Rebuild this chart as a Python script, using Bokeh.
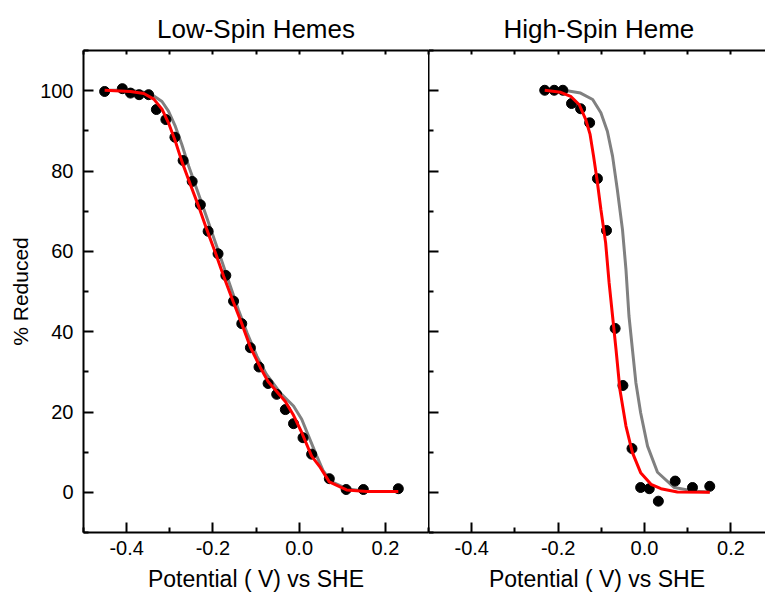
from bokeh.plotting import figure
from bokeh.models import FixedTicker, LinearAxis, Range1d, PrintfTickFormatter
from bokeh.layouts import row
from bokeh.embed import file_html
from bokeh.resources import INLINE

# ---------------- data ----------------
titles = ["Low-Spin Hemes", "High-Spin  Heme"]
x_label = "Potential ( V) vs SHE"
y_label = "% Reduced"

x_major = [-0.4, -0.2, 0.0, 0.2]
x_minor = [-0.5, -0.3, -0.1, 0.1, 0.3]
y_major = [0, 20, 40, 60, 80, 100]
y_minor = [-10, 10, 30, 50, 70, 90, 110]

# Low-spin hemes: measured points
ls_pot = [-0.451, -0.410, -0.391, -0.371, -0.349, -0.331, -0.309, -0.288, -0.269,
          -0.248, -0.229, -0.211, -0.188, -0.170, -0.152, -0.133, -0.113, -0.093,
          -0.072, -0.052, -0.032, -0.013, 0.009, 0.029, 0.070, 0.109, 0.149, 0.230]
ls_red = [99.8, 100.5, 99.4, 99.0, 99.0, 95.3, 92.8, 88.4, 82.6,
          77.4, 71.6, 65.0, 59.4, 54.0, 47.6, 42.0, 36.0, 31.2,
          27.1, 24.4, 20.6, 17.1, 13.6, 9.5, 3.4, 0.7, 0.7, 0.9]

# Low-spin hemes: fit (red)
ls_fit_pot = [-0.451, -0.391, -0.360, -0.337, -0.318, -0.303, -0.287, -0.272, -0.252,
              -0.233, -0.214, -0.194, -0.175, -0.153, -0.133, -0.113, -0.090, -0.072,
              -0.052, -0.032, -0.014, 0.006, 0.029, 0.049, 0.070, 0.110, 0.157, 0.230]
ls_fit = [100.1, 99.8, 99.3, 97.9, 95.4, 92.0, 87.4, 82.4, 76.6,
          71.2, 65.4, 59.6, 53.8, 47.5, 42.0, 36.1, 31.1, 27.6,
          25.1, 22.6, 19.4, 14.9, 9.0, 6.2, 2.6, 0.6, 0.2, 0.2]

# Low-spin hemes: alternative model (grey)
ls_alt_pot = [-0.451, -0.391, -0.353, -0.341, -0.318, -0.303, -0.287, -0.272, -0.256,
              -0.237, -0.218, -0.198, -0.179, -0.160, -0.141, -0.121, -0.098, -0.076,
              -0.044, -0.013, 0.006, 0.025, 0.041, 0.056, 0.076, 0.110, 0.157, 0.230]
ls_alt = [100.1, 100.1, 99.5, 99.0, 97.3, 94.9, 91.1, 86.6, 81.2,
          75.4, 69.6, 63.4, 57.5, 51.5, 45.5, 39.8, 33.9, 29.4,
          24.8, 21.5, 18.2, 13.2, 9.0, 5.3, 2.6, 0.9, 0.2, 0.2]

# High-spin heme: measured points
hs_pot = [-0.231, -0.209, -0.189, -0.169, -0.148, -0.127, -0.109, -0.088, -0.068,
          -0.050, -0.029, -0.009, 0.011, 0.032, 0.071, 0.111, 0.151]
hs_red = [100.1, 100.1, 100.1, 96.8, 95.5, 92.0, 78.1, 65.2, 40.8,
          26.6, 10.9, 1.2, 0.9, -2.2, 2.8, 1.2, 1.5]

# High-spin heme: fit (red)
hs_fit_pot = [-0.231, -0.194, -0.171, -0.151, -0.136, -0.126, -0.118, -0.110, -0.101,
              -0.090, -0.082, -0.074, -0.066, -0.057, -0.043, -0.028, -0.009, 0.015,
              0.038, 0.076, 0.151]
hs_fit = [100.1, 99.6, 98.6, 96.5, 92.8, 89.1, 83.7, 77.9, 70.4,
          62.1, 52.2, 43.9, 35.6, 25.6, 16.5, 9.9, 4.9, 2.0,
          0.9, 0.1, 0.0]

# High-spin heme: alternative model (grey)
hs_alt_pot = [-0.231, -0.186, -0.148, -0.120, -0.101, -0.086, -0.074, -0.063, -0.051,
              -0.043, -0.036, -0.028, -0.020, -0.009, 0.007, 0.030, 0.069, 0.115, 0.151]
hs_alt = [100.1, 100.1, 99.4, 97.8, 94.5, 89.9, 83.7, 75.4, 65.4,
          55.5, 43.9, 35.6, 27.3, 19.8, 11.5, 5.0, 1.2, 0.3, 0.1]

FONT = "Liberation Sans"


def make_panel(title, title_align, title_offset, pot, red, fit_pot, fit, alt_pot, alt,
               width, x_end, left_border, show_y_labels):
    p = figure(width=width, height=594,
               x_range=Range1d(-0.5, x_end), y_range=Range1d(-10, 110),
               output_backend="svg", toolbar_location=None,
               min_border_left=left_border, min_border_right=0,
               min_border_top=50, min_border_bottom=61,
               x_axis_label=x_label)
    p.outline_line_color = None
    p.background_fill_color = "white"
    p.border_fill_color = "white"
    p.xgrid.visible = False
    p.ygrid.visible = False

    p.title.text = title
    p.title.text_font = FONT
    p.title.text_font_size = "26px"
    p.title.text_font_style = "normal"
    p.title.text_color = "black"
    p.title.align = title_align
    p.title.offset = title_offset
    p.title.standoff = 13

    # bottom axis
    xa = p.xaxis[0]
    xa.ticker = FixedTicker(ticks=x_major, minor_ticks=x_minor)
    xa.formatter = PrintfTickFormatter(format="%.1f")
    xa.axis_line_width = 2
    xa.major_tick_line_width = 2
    xa.minor_tick_line_width = 2
    xa.major_tick_in = 10
    xa.major_tick_out = 0
    xa.minor_tick_in = 5
    xa.minor_tick_out = 0
    xa.major_label_standoff = 8
    xa.major_label_text_font = FONT
    xa.major_label_text_font_size = "20px"
    xa.major_label_text_color = "black"
    xa.axis_label_standoff = 8
    xa.axis_label_text_font = FONT
    xa.axis_label_text_font_size = "23px"
    xa.axis_label_text_font_style = "normal"
    xa.axis_label_text_color = "black"

    # left axis
    ya = p.yaxis[0]
    ya.ticker = FixedTicker(ticks=y_major, minor_ticks=y_minor)
    ya.axis_line_width = 2
    ya.major_tick_line_width = 2
    ya.minor_tick_line_width = 2
    ya.major_tick_in = 10
    ya.major_tick_out = 0
    ya.minor_tick_in = 5
    ya.minor_tick_out = 0
    if show_y_labels:
        ya.axis_label = y_label
        ya.major_label_standoff = 10
        ya.major_label_text_font = FONT
        ya.major_label_text_font_size = "20px"
        ya.major_label_text_color = "black"
        ya.axis_label_standoff = 5
        ya.axis_label_text_font = FONT
        ya.axis_label_text_font_size = "21px"
        ya.axis_label_text_font_style = "normal"
        ya.axis_label_text_color = "black"
    else:
        ya.major_label_text_color = None
        ya.major_label_standoff = 0

    # top axis (ticks only)
    ta = LinearAxis(ticker=FixedTicker(ticks=x_major, minor_ticks=x_minor),
                    axis_line_width=2, major_tick_line_width=2, minor_tick_line_width=2,
                    major_tick_in=4, major_tick_out=0, minor_tick_in=4, minor_tick_out=0,
                    major_label_text_color=None, major_label_standoff=0)
    p.add_layout(ta, "above")

    p.line(alt_pot, alt, line_color="#808080", line_width=3)
    p.scatter(pot, red, size=10, fill_color="black", line_color="black")
    p.line(fit_pot, fit, line_color="#FF0000", line_width=3)
    return p


p1 = make_panel(titles[0], "center", 0, ls_pot, ls_red, ls_fit_pot, ls_fit, ls_alt_pot, ls_alt,
                width=428, x_end=0.3, left_border=83, show_y_labels=True)
p2 = make_panel(titles[1], "left", 75, hs_pot, hs_red, hs_fit_pot, hs_fit, hs_alt_pot, hs_alt,
                width=337, x_end=0.28, left_border=0, show_y_labels=False)

layout = row(p1, p2)
open("out.html", "w").write(file_html(layout, INLINE))
